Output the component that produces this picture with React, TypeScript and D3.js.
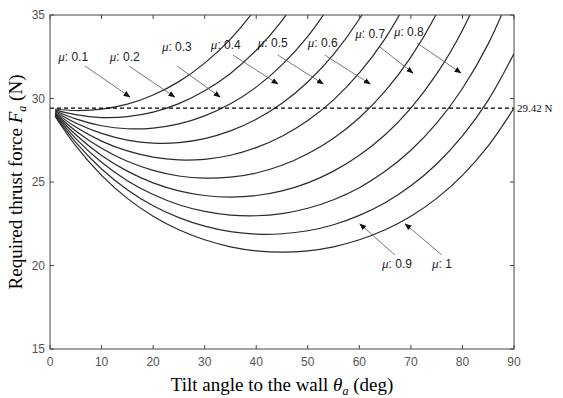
import * as d3 from "d3";

const W = 563;
const H = 398;
const MARGIN = { top: 15, right: 49, bottom: 49, left: 50 };

// tilt angles (deg) sampled along each curve
const angles = [1, 5, 10, 15, 20, 25, 30, 35, 40, 45, 50, 55, 60, 65, 70, 75, 80, 85, 90];

// required thrust force (N), one list per friction coefficient
const mu01 = [29.37, 29.28, 29.36, 29.66, 30.21, 31.01, 32.12, 33.56, 35.43, 37.82];
const mu02 = [29.32, 29.03, 28.86, 28.91, 29.18, 29.69, 30.46, 31.5, 32.89, 34.67, 36.96];
const mu03 = [29.27, 28.78, 28.37, 28.19, 28.23, 28.48, 28.96, 29.68, 30.68, 32.01, 33.72, 35.9];
const mu04 = [29.22, 28.53, 27.91, 27.51, 27.33, 27.36, 27.6, 28.06, 28.76, 29.72, 30.99, 32.64, 34.76, 37.47];
const mu05 = [29.17, 28.29, 27.45, 26.86, 26.49, 26.32, 26.36, 26.6, 27.06, 27.74, 28.68, 29.92, 31.53, 33.59, 36.24];
const mu06 = [29.12, 28.06, 27.02, 26.24, 25.7, 25.36, 25.23, 25.29, 25.54, 26.0, 26.69, 27.62, 28.85, 30.44, 32.48, 35.09, 38.48];
const mu07 = [29.07, 27.83, 26.59, 25.65, 24.95, 24.47, 24.19, 24.1, 24.19, 24.47, 24.95, 25.65, 26.6, 27.83, 29.43, 31.47, 34.09, 37.5];
const mu08 = [29.02, 27.6, 26.18, 25.08, 24.25, 23.64, 23.24, 23.02, 22.98, 23.11, 23.43, 23.94, 24.66, 25.64, 26.9, 28.52, 30.6, 33.27, 36.78];
const mu09 = [28.97, 27.37, 25.78, 24.54, 23.58, 22.87, 22.36, 22.03, 21.88, 21.9, 22.08, 22.44, 23.0, 23.76, 24.77, 26.08, 27.76, 29.9, 32.69];
const mu10 = [28.92, 27.16, 25.4, 24.02, 22.95, 22.14, 21.54, 21.12, 20.88, 20.8, 20.88, 21.12, 21.54, 22.14, 22.95, 24.02, 25.4, 27.16, 29.42];
const curves = [mu01, mu02, mu03, mu04, mu05, mu06, mu07, mu08, mu09, mu10];

const xTicks = [0, 10, 20, 30, 40, 50, 60, 70, 80, 90];
const yTicks = [15, 20, 25, 30, 35];
const weightLine = 29.42;

// annotation labels with arrows: [label x, label y, tail x, tail y, head x, head y] in data units
const muLabels = ["0.1", "0.2", "0.3", "0.4", "0.5", "0.6", "0.7", "0.8", "0.9", "1"];
const muNotes = [
    [1.6, 32.25, 6.8, 31.95, 15.5, 30.09],
    [11.6, 32.25, 15.3, 31.95, 24.2, 30.09],
    [21.7, 32.84, 24.6, 31.95, 33.0, 30.09],
    [31.2, 32.96, 35.5, 32.6, 44.2, 30.87],
    [40.3, 33.08, 44.2, 32.6, 53.0, 30.87],
    [50.0, 33.08, 53.3, 32.6, 62.1, 30.87],
    [59.2, 33.62, 64.0, 33.08, 70.4, 31.53],
    [66.7, 33.74, 71.2, 33.32, 79.7, 31.53],
    [64.4, 19.85, 66.9, 20.63, 60.1, 22.49],
    [74.1, 19.85, 76.0, 20.63, 68.9, 22.49],
];

const SERIF = "'Liberation Serif', 'Times New Roman', serif";
const SANS = "'Liberation Sans', Arial, sans-serif";

export default function App() {
    const boundsWidth = W - MARGIN.left - MARGIN.right;
    const boundsHeight = H - MARGIN.top - MARGIN.bottom;

    const x = d3.scaleLinear().domain([0, 90]).range([0, boundsWidth]);
    const y = d3.scaleLinear().domain([15, 35]).range([boundsHeight, 0]);

    const line = d3
        .line<number>()
        .x((_, i) => x(angles[i]))
        .y((d) => y(d))
        .curve(d3.curveCatmullRom.alpha(0.5));

    return (
        <svg width={W} height={H} style={{ position: "absolute", left: 0, top: 0 }}>
            <defs>
                <clipPath id="plot">
                    <rect x={0} y={0} width={boundsWidth} height={boundsHeight} />
                </clipPath>
                <marker id="head" viewBox="0 0 10 10" refX={9} refY={5} markerWidth={7} markerHeight={7} orient="auto" markerUnits="userSpaceOnUse">
                    <path d="M0,1 L10,5 L0,9 Z" fill="#111" />
                </marker>
            </defs>
            <rect width={W} height={H} fill="#fff" />
            <g transform={`translate(${MARGIN.left},${MARGIN.top})`}>
                {/* curves */}
                <g clipPath="url(#plot)">
                    {curves.map((c, i) => (
                        <path key={i} d={line(c) || ""} fill="none" stroke="#2a2a2a" strokeWidth={1.2} />
                    ))}
                </g>

                {/* weight line */}
                <line x1={x(0)} x2={x(90)} y1={y(weightLine)} y2={y(weightLine)} stroke="#000" strokeWidth={1.3} strokeDasharray="4,3" />
                <text x={boundsWidth + 3} y={y(weightLine)} dy="0.35em" fontFamily={SERIF} fontSize={11} fill="#111">
                    29.42 N
                </text>

                {/* frame and ticks */}
                <rect x={0} y={0} width={boundsWidth} height={boundsHeight} fill="none" stroke="#444" strokeWidth={1} />
                {xTicks.map((t) => (
                    <g key={"x" + t}>
                        <line x1={x(t)} x2={x(t)} y1={boundsHeight} y2={boundsHeight - 4} stroke="#444" />
                        <line x1={x(t)} x2={x(t)} y1={0} y2={4} stroke="#444" />
                        <text x={x(t)} y={boundsHeight + 17} textAnchor="middle" fontFamily={SANS} fontSize={12} fill="#555">
                            {t}
                        </text>
                    </g>
                ))}
                {yTicks.map((t) => (
                    <g key={"y" + t}>
                        <line x1={0} x2={4} y1={y(t)} y2={y(t)} stroke="#444" />
                        <line x1={boundsWidth} x2={boundsWidth - 4} y1={y(t)} y2={y(t)} stroke="#444" />
                        <text x={-5} y={y(t)} dy="0.35em" textAnchor="end" fontFamily={SANS} fontSize={12} fill="#555">
                            {t}
                        </text>
                    </g>
                ))}

                {/* mu annotations */}
                {muNotes.map((n, i) => (
                    <g key={"n" + i}>
                        <line x1={x(n[2])} y1={y(n[3])} x2={x(n[4])} y2={y(n[5])} stroke="#555" strokeWidth={0.8} markerEnd="url(#head)" />
                        <text x={x(n[0])} y={y(n[1])} fontFamily={SANS} fontSize={12} fill="#222">
                            <tspan fontFamily={SERIF} fontStyle="italic" fontSize={13}>μ</tspan>
                            <tspan>{": " + muLabels[i]}</tspan>
                        </text>
                    </g>
                ))}

                {/* axis titles */}
                <text x={boundsWidth / 2} y={boundsHeight + 42} textAnchor="middle" fontFamily={SERIF} fontSize={19} fill="#000">
                    Tilt angle to the wall{" "}
                    <tspan fontStyle="italic">θ</tspan>
                    <tspan fontStyle="italic" fontSize={12} dy={4}>a</tspan>
                    <tspan dy={-4}> (deg)</tspan>
                </text>
                <text transform={`translate(${-28},${boundsHeight / 2}) rotate(-90)`} textAnchor="middle" fontFamily={SERIF} fontSize={19} fill="#000">
                    Required thrust force{"  "}
                    <tspan fontStyle="italic">F</tspan>
                    <tspan fontStyle="italic" fontSize={12} dy={4}>a</tspan>
                    <tspan dy={-4}> (N)</tspan>
                </text>
            </g>
        </svg>
    );
}
